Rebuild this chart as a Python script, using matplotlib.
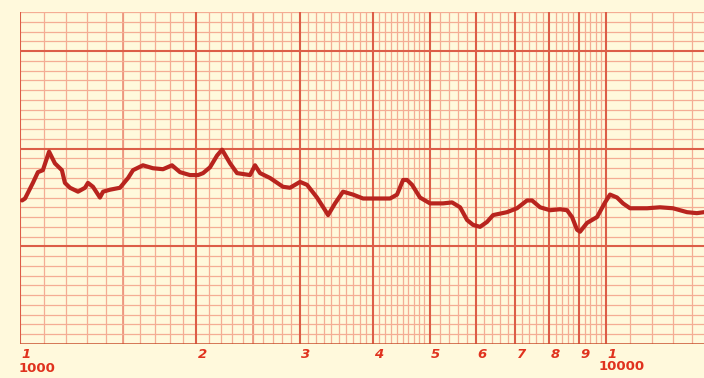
import matplotlib
matplotlib.use('Agg')
import matplotlib.pyplot as plt

# frequency response (Hz, dB)
freq = [1008, 1020, 1052, 1073, 1094, 1121, 1147, 1179, 1193, 1217, 1256, 1291, 1306, 1332,
        1369, 1386, 1424, 1481, 1529, 1559, 1621, 1686, 1754, 1817, 1875, 1950, 2013, 2053,
        2110, 2169, 2212, 2283, 2346, 2469, 2518, 2568, 2671, 2810, 2889, 3005, 3089, 3212,
        3316, 3355, 3448, 3558, 3701, 3849, 4068, 4280, 4399, 4505, 4576, 4667, 4814, 5008,
        5270, 5461, 5636, 5792, 5930, 6095, 6265, 6416, 6776, 7048, 7332, 7477, 7717, 8025,
        8346, 8579, 8750, 8924, 9029, 9281, 9652, 9961, 10158, 10442, 10690, 10990, 11750,
        12360, 13010, 13750, 14290, 14690]
level = [14.7, 14.9, 16.5, 17.6, 17.8, 19.7, 18.5, 17.8, 16.5, 16.0, 15.6, 16.0, 16.5, 16.1,
         15.0, 15.6, 15.8, 16.0, 17.0, 17.8, 18.3, 18.0, 17.9, 18.3, 17.6, 17.3, 17.3, 17.5,
         18.1, 19.3, 19.9, 18.5, 17.5, 17.3, 18.3, 17.5, 17.0, 16.1, 16.0, 16.6, 16.3, 15.0,
         13.7, 13.2, 14.4, 15.6, 15.3, 14.9, 14.9, 14.9, 15.3, 16.8, 16.8, 16.3, 15.0, 14.4,
         14.4, 14.5, 14.0, 12.7, 12.2, 12.0, 12.5, 13.2, 13.5, 13.9, 14.7, 14.7, 14.0, 13.7,
         13.8, 13.7, 13.0, 11.7, 11.5, 12.4, 13.0, 14.5, 15.3, 15.0, 14.4, 13.9, 13.9,
         14.0, 13.9, 13.5, 13.4, 13.5]

decade_labels = ['1', '2', '3', '4', '5', '6', '7', '8', '9', '1']
decade_freqs = [1000, 2000, 3000, 4000, 5000, 6000, 7000, 8000, 9000, 10000]

paper = '#fff9dc'
minor_c = '#f4ad94'
mid_c = '#ec927a'
major_c = '#dc5e48'
ink = '#b8241e'
label_c = '#e0321e'

fig = plt.figure(figsize=(7.04, 3.78), dpi=100, facecolor=paper)
ax = fig.add_axes([20 / 704, 34 / 378, 684 / 704, 332 / 378])
ax.set_facecolor(paper)
ax.set_xscale('log')
ax.set_xlim(1000, 14695)
ax.set_ylim(0, 34)
for s in ax.spines.values():
    s.set_visible(False)
ax.set_xticks([])
ax.set_yticks([])
ax.minorticks_off()

# vertical rulings of the log paper
minor_v = [1000 + 100 * i for i in range(1, 40)] + [5000 + 200 * i for i in range(1, 25)] \
    + [10000 + 1000 * i for i in range(1, 5)]
minor_v = [v for v in minor_v if v not in decade_freqs]
ax.vlines(minor_v, 0, 34, color=minor_c, lw=0.9, zorder=1)
ax.vlines([1500, 2500], 0, 34, color=mid_c, lw=1.2, zorder=1)
ax.vlines(decade_freqs, 0, 34, color=major_c, lw=1.5, zorder=2)

# horizontal rulings, 1 dB each, heavy every 10
ax.hlines([v for v in range(1, 35) if v % 10], 1000, 14695, color=minor_c, lw=0.9, zorder=1)
ax.hlines([10, 20, 30], 1000, 14695, color=major_c, lw=1.5, zorder=2)
ax.hlines(0, 1000, 14695, color='#c8502e', lw=1.8, zorder=2)

ax.plot(freq, level, color=ink, lw=3.0, solid_capstyle='round', solid_joinstyle='round', zorder=5)

for f, lbl in zip(decade_freqs, decade_labels):
    ax.annotate(lbl, xy=(f, 0), xycoords=('data', 'axes fraction'), xytext=(4.5, -7.5),
                textcoords='offset points', ha='center', va='center', color=label_c,
                fontsize=9.5, fontstyle='italic', fontweight='bold', annotation_clip=False)
ax.annotate('1000', xy=(1000, 0), xycoords=('data', 'axes fraction'), xytext=(12, -17.5),
            textcoords='offset points', ha='center', va='center', color=label_c,
            fontsize=9.5, fontweight='bold', annotation_clip=False)
ax.annotate('10000', xy=(10000, 0), xycoords=('data', 'axes fraction'), xytext=(11, -16),
            textcoords='offset points', ha='center', va='center', color=label_c,
            fontsize=9.5, fontweight='bold', annotation_clip=False)

plt.savefig('out.png', dpi=100, facecolor=paper)
